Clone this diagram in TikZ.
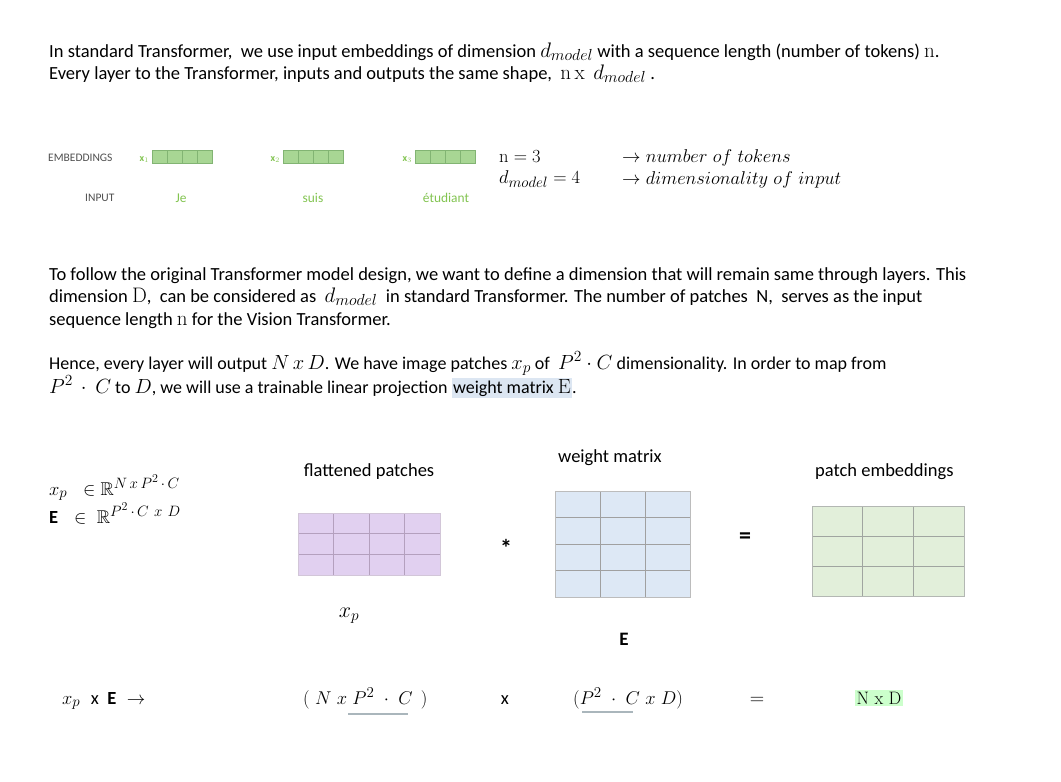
\RequirePackage{fix-cm}
\documentclass[tikz,border=0pt]{standalone}
\usepackage{amssymb}
\usepackage{fontspec}
\newfontfamily\calibri{Carlito}
\DeclareMathSizes{18.5}{21}{16}{12}
\DeclareMathSizes{18}{20.5}{15.5}{12}
\DeclareMathSizes{17.5}{18.5}{15}{12}
\definecolor{embfill}{RGB}{168,214,148}
\definecolor{embdraw}{RGB}{130,180,115}
\definecolor{embtxt}{RGB}{130,196,80}
\definecolor{lbl}{RGB}{80,80,80}
\definecolor{purfill}{RGB}{225,208,240}
\definecolor{purdraw}{RGB}{180,160,190}
\definecolor{bluefill}{RGB}{221,232,245}
\definecolor{bluedraw}{RGB}{160,160,160}
\definecolor{grnfill}{RGB}{226,239,218}
\definecolor{grndraw}{RGB}{160,165,160}
\definecolor{hlblue}{RGB}{220,230,242}
\definecolor{hlgreen}{RGB}{204,255,204}
\definecolor{uline}{RGB}{170,182,188}
\newcommand{\bodyfont}{\calibri\fontsize{18.5}{22}\selectfont}
\newcommand{\hl}[2]{{\setlength\fboxsep{1.5pt}\colorbox{#1}{#2}}}
\begin{document}
\begin{tikzpicture}[x=1pt,y=-1pt,
  txt/.style={anchor=base west,inner sep=0pt,font=\bodyfont},
  txtb/.style={anchor=base west,inner sep=0pt,font=\calibri\fontsize{18}{22}\selectfont},
  ctxt/.style={anchor=base,inner sep=0pt,font=\bodyfont},
  small/.style={anchor=base west,inner sep=0pt,font=\calibri\fontsize{11.5}{13}\selectfont,text=lbl},
  word/.style={anchor=base,inner sep=0pt,font=\calibri\fontsize{13.4}{15}\selectfont,text=embtxt},
  xlab/.style={anchor=base east,inner sep=0pt,font=\calibri\bfseries\fontsize{10}{12}\selectfont,text=embtxt},
  mth/.style={anchor=base west,inner sep=0pt,font=\fontsize{17.5}{21}\selectfont},
  bigsym/.style={anchor=center,inner sep=0pt,font=\calibri\fontsize{24}{26}\selectfont},
  cell/.style={draw=embdraw,fill=embfill,line width=0.8pt}
  ]
\useasboundingbox[fill=white] (0,0) rectangle (1061,782);

% --- paragraph 1
\node[txt] (l1) at (49,57) {In standard Transformer,\ \ we use input embeddings of dimension $d_{model}$ with a sequence length (number of tokens) $\mathrm{n}$.};
\node[txt] (l2) at (49,79) {Every layer to the Transformer, inputs and outputs the same shape,\ \ $\mathrm{n\,x}\ \ d_{model}$ .};

% --- embeddings example
\node[small] (emb) at (48,161) {EMBEDDINGS};
\node[small] (inp) at (85,201) {INPUT};
\foreach \i/\x/\w/\wx in {1/152/Je/181,2/283/suis/313,3/415/étudiant/446}{
  \node[xlab] (xl\i) at (\x-3,161) {x$_{\i}$};
  \foreach \k in {0,1,2,3}{
    \draw[cell] (\x+\k*15,150) rectangle ++(15,13);
  }
  \node[word] (w\i) at (\wx,202) {\w};
}
\node[mth] (n3) at (499,162) {$\mathrm{n} = 3$};
\node[mth] (dm) at (499,183) {$d_{model} = 4$};
\node[mth] (a1) at (622,162) {$\rightarrow number\ of\ tokens$};
\node[mth] (a2) at (622,184) {$\rightarrow dimensionality\ of\ input$};

% --- paragraph 2
\node[txt] (p1) at (49,280) {To follow the original Transformer model design, we want to define a dimension that will remain same through layers. This};
\node[txt] (p2) at (49,302) {dimension $\mathrm{D}$,\ \ can be considered as\ \ $d_{model}$\ \ in standard Transformer. The number of patches\ \ N,\ \ serves as the input};
\node[txt] (p3) at (49,325) {sequence length $\mathrm{n}$ for the Vision Transformer.};

% --- paragraph 3
\node[txtb] (h1) at (49,369) {Hence, every layer will output $N\,x\,D$. We have image patches $x_p$ of\ \ $P^2\cdot C$ dimensionality. In order to map from};
\node[txtb] (h2) at (49,393) {$P^2\,\cdot\ C$ to $D$, we will use a trainable linear projection \hl{hlblue}{weight matrix $\mathrm{E}$}.};

% --- definitions
\node[mth] (d1) at (49,495) {$x_p\ \ \in \mathbb{R}^{N\,x\,P^2\,\cdot\,C}$};
\node[mth] (d2) at (49,523) {{\calibri\bfseries\fontsize{18.5}{22}\selectfont E}\ \ \ $\in\ \mathbb{R}^{P^2\,\cdot\,C\ x\ D}$};

% --- flattened patches
\node[ctxt] (fp) at (369,476) {flattened patches};
\fill[purfill] (298,513) rectangle (440,575);
\foreach \k in {1,2,3} \draw[purdraw,line width=0.8pt] (298+\k*35.5,513) -- (298+\k*35.5,575);
\foreach \k in {1,2} \draw[purdraw,line width=0.8pt] (298,513+\k*20.67) -- (440,513+\k*20.67);
\draw[purdraw!60,line width=0.8pt] (298,513) rectangle (440,575);
\node[anchor=base,inner sep=0pt,font=\fontsize{22}{26}\selectfont] (xp) at (349,617) {$x_p$};

\node[bigsym] (star) at (506,548) {\textbf{*}};

% --- weight matrix
\node[txt] (wm) at (558,462) {weight matrix};
\fill[bluefill] (555,491) rectangle (690,597);
\foreach \k in {1,2} \draw[bluedraw,line width=0.8pt] (555+\k*45,491) -- (555+\k*45,597);
\foreach \k in {1,2,3} \draw[bluedraw,line width=0.8pt] (555,491+\k*26.5) -- (690,491+\k*26.5);
\draw[bluedraw!70,line width=0.8pt] (555,491) rectangle (690,597);
\node[anchor=base,inner sep=0pt,font=\calibri\bfseries\fontsize{19}{22}\selectfont] (E) at (624,645) {E};

\node[bigsym] (eq1) at (745,538) {\textbf{=}};

% --- patch embeddings
\node[txt] (pe) at (815,476) {patch embeddings};
\fill[grnfill] (812,506) rectangle (964,596);
\foreach \k in {1,2} \draw[grndraw,line width=0.8pt] (812+\k*50.67,506) -- (812+\k*50.67,596);
\foreach \k in {1,2} \draw[grndraw,line width=0.8pt] (812,506+\k*30) -- (964,506+\k*30);
\draw[grndraw!80,line width=0.8pt] (812,506) rectangle (964,596);

% --- bottom equation
\node[mth] (b1) at (62,704) {$x_p$\ \ {\calibri\fontsize{18.5}{22}\selectfont x\ \ \bfseries E}\ \ $\rightarrow$};
\node[mth] (b2) at (303,704) {$(\ N\ x\ P^2\ \cdot\ C\ \,)$};
\draw[uline,line width=1.8pt] (348,714) -- (408,714);
\node[ctxt] (bx) at (505,704) {x};
\node[mth] (b3) at (573,704) {$(P^2\ \cdot\ C\ x\ D)$};
\draw[uline,line width=1.8pt] (582,712) -- (633,712);
\node[anchor=base,inner sep=0pt,font=\fontsize{20}{22}\selectfont] (beq) at (757,704) {$=$};
\node[anchor=base,inner sep=0pt,font=\fontsize{18}{21}\selectfont] (nd) at (879,704) {\hl{hlgreen}{N x D}};
\end{tikzpicture}
\end{document}
